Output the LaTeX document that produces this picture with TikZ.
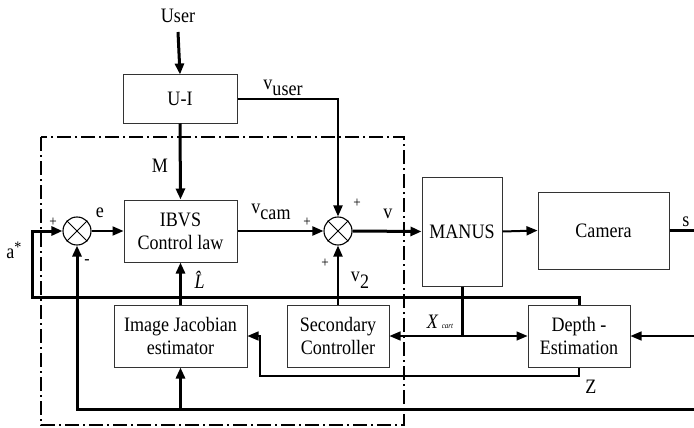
\documentclass[tikz,border=0pt]{standalone}
\usepackage{fontspec}
\setmainfont[FakeStretch=0.88]{Liberation Serif}
\usetikzlibrary{arrows.meta}
\begin{document}
\begin{tikzpicture}[x=1pt,y=-1pt,
  every node/.style={font=\fontsize{20.5}{23}\selectfont},
  blk/.style={draw=black!80,line width=1pt,inner sep=0pt,align=center},
  sumj/.style={draw,circle,line width=1.1pt,minimum size=28pt,inner sep=0pt},
  lbl/.style={inner sep=0pt},
  pm/.style={inner sep=0pt,font=\fontsize{15}{15}\selectfont},
  tip/.style={-{Triangle[length=11pt,width=9pt]}},
  bold/.style={line width=3pt},
  med/.style={line width=2pt},
  thin/.style={line width=1.5pt},
  frame/.style={line width=1.4pt,dash pattern=on 14pt off 4pt on 2pt off 4pt}]
\useasboundingbox (0,0) rectangle (694,428);
% frame
\draw[frame] (41,137) rectangle (404,425);
% blocks
\node[blk,minimum width=114pt,minimum height=48pt] (ui) at (180,99) {U-I};
\node[blk,minimum width=113pt,minimum height=62pt] (ibvs) at (180.5,231) {IBVS\\Control law};
\node[blk,minimum width=133pt,minimum height=62pt] (ije) at (180.5,336) {Image Jacobian\\estimator};
\node[blk,minimum width=102pt,minimum height=62pt] (sec) at (338,336) {Secondary\\Controller};
\node[blk,minimum width=80pt,minimum height=109pt] (manus) at (462,231.5) {MANUS};
\node[blk,minimum width=131pt,minimum height=77pt] (cam) at (603.5,230.5) {Camera};
\node[blk,minimum width=102pt,minimum height=62pt] (dep) at (579,336) {Depth -\\Estimation};
% summing junctions
\node[sumj] (s1) at (77,231) {};
\draw[line width=1pt] (s1.north west) -- (s1.south east) (s1.north east) -- (s1.south west);
\node[sumj] (s2) at (338,231) {};
\draw[line width=1pt] (s2.north west) -- (s2.south east) (s2.north east) -- (s2.south west);
% text nodes
\node[lbl] (user) at (178,16) {User};
\coordinate (uTop) at (178,32);
\coordinate (aC) at (32,297);
\coordinate (bR) at (694,409);
\coordinate (zC) at (260,376);
\coordinate (xm) at (462,336);
\coordinate (dR) at (694,336);
\coordinate (sOut) at (694,230.5);
% connectors
\draw[bold,tip] (uTop) -- (ui.north);
\draw[bold,tip] (ui.south) -- (ibvs.north);
\draw[med,tip] (s1.east) -- (ibvs.west);
\draw[med,tip] (ibvs.east) -- (s2.west);
\draw[med,tip] (ui.east) -| (s2.north);
\draw[bold,tip] (s2.east) -- (manus.west);
\draw[med,tip] (sec.north) -- (s2.south);
\draw[bold,tip] (ije.north) -- (ibvs.south);
\draw[med,tip] (manus.east) -- (cam.west);
\draw[bold] (cam.east) -- (sOut);
\draw[bold,tip] (dep.north) |- (aC) |- (s1.west);
\draw[bold,tip] (bR) -| (s1.south);
\draw[bold,tip] (ije.south |- bR) -- (ije.south);
\draw[thin,tip] (dep.south) |- (zC) |- (ije.east);
\draw[bold] (manus.south) -- (xm);
\draw[thin,tip] (xm) -- (sec.east);
\draw[thin,tip] (xm) -- (dep.west);
\draw[thin,tip] (dR) -- (dep.east);
% labels
\node[lbl] (lM) at (160,166) {M};
\node[lbl] (le) at (100,213) {e};
\node[pm] (p1) at (53,222) {+};
\node[lbl,font=\fontsize{18}{18}\selectfont] (m1) at (87,262) {-};
\node[lbl] (la) at (14,250) {a{\fontsize{16}{16}\selectfont\raisebox{6pt}{*}}};
\node[lbl] (lvcam) at (271,212) {v\raisebox{-6pt}{cam}};
\node[pm] (p2) at (307,222) {+};
\node[pm] (p3) at (357,203) {+};
\node[pm] (p4) at (325,263) {+};
\node[lbl] (lv2) at (360,280) {v\raisebox{-7pt}{2}};
\node[lbl] (lv) at (388,214) {v};
\node[lbl] (lvu) at (283,88) {v\raisebox{-6pt}{user}};
\node[lbl] (lL) at (203,280) {\textit{\^L}};
\node[lbl] (lx) at (440,322) {\textit{X}\,{\fontsize{8}{8}\selectfont\textit{cart}}};
\node[lbl] (lz) at (591,387) {Z};
\node[lbl] (ls) at (686,222) {s};
\end{tikzpicture}
\end{document}
